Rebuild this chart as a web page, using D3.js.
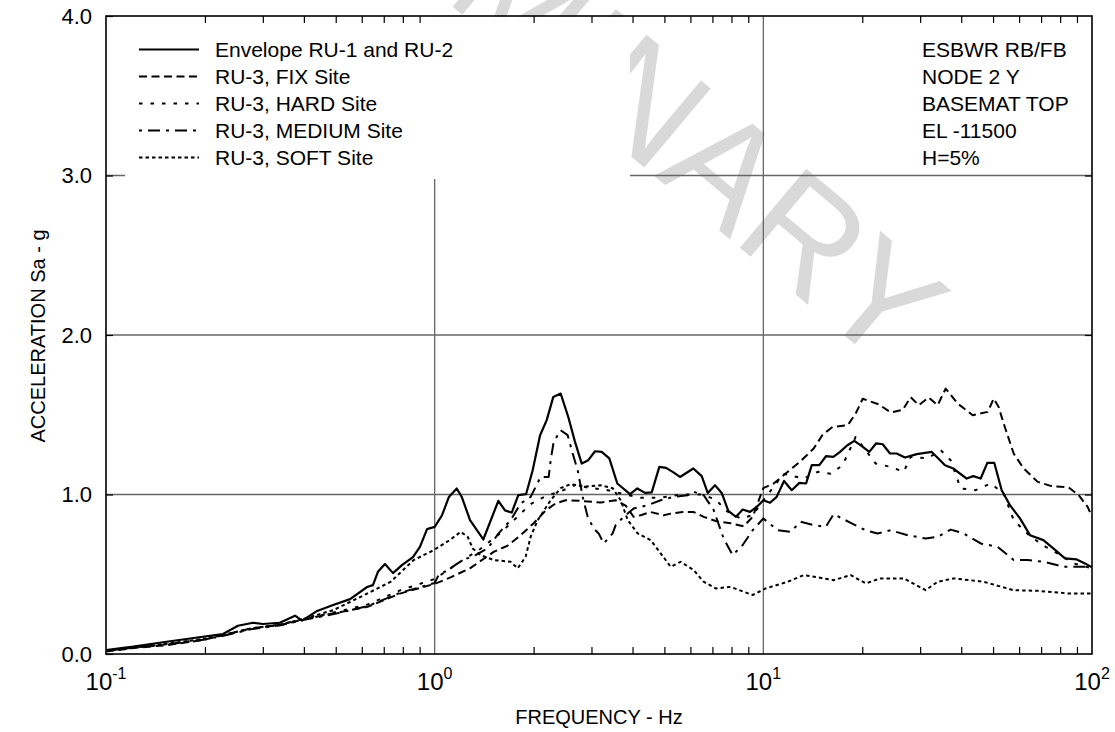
<!DOCTYPE html>
<html>
<head>
<meta charset="utf-8">
<script src="https://d3js.org/d3.v7.min.js"></script>
<style>
  body { margin: 0; background: #fff; }
  text { font-family: "Liberation Sans", Arial, sans-serif; fill: #000; }
</style>
</head>
<body>
<div id="chart"></div>
<script>
// ---- data (frequency in Hz, acceleration in g) ----
var freqEnv = [0.1,0.121,0.153,0.197,0.227,0.252,0.28,0.30,0.338,0.376,
  0.395,0.439,0.491,0.553,0.623,0.649,0.672,0.706,0.747,0.795,
  0.859,0.902,0.948,1.0,1.053,1.105,1.167,1.209,1.281,1.406,
  1.562,1.637,1.716,1.797,1.897,1.987,2.092,2.192,2.296,2.418,
  2.55,2.673,2.802,2.934,3.075,3.223,3.399,3.595,3.93,4.136,
  4.365,4.575,4.826,5.057,5.3,5.578,6.123,6.494,6.773,7.129,
  7.47,7.824,8.257,8.654,9.108,9.545,10.0,10.48,10.98,11.56,
  12.2,12.87,13.49,14.04,14.8,15.51,16.33,17.12,18.02,18.92,
  19.93,21.01,22.02,23.08,24.29,25.45,26.98,29.29,32.54,34.08,
  35.71,37.84,41.56,43.54,45.85,48.03,50.44,53.12,56.3,60.38,
  64.76,71.11,76.26,82.76,89.85,95.21,100];
var accEnv = [0.025,0.046,0.077,0.108,0.125,0.177,0.196,0.188,0.196,0.24,
  0.209,0.27,0.307,0.344,0.42,0.432,0.515,0.564,0.507,0.557,
  0.607,0.672,0.783,0.797,0.87,0.985,1.038,0.985,0.839,0.718,
  0.96,0.90,0.887,0.996,1.002,1.152,1.37,1.466,1.612,1.633,
  1.486,1.33,1.194,1.215,1.271,1.267,1.226,1.069,1.002,1.038,
  1.01,1.013,1.173,1.167,1.142,1.11,1.163,1.115,1.01,1.058,
  1.01,0.897,0.86,0.906,0.891,0.922,0.964,0.948,0.985,1.085,
  1.027,1.073,1.069,1.184,1.184,1.24,1.236,1.267,1.309,1.336,
  1.303,1.267,1.32,1.315,1.257,1.257,1.232,1.253,1.267,1.226,
  1.184,1.163,1.1,1.115,1.1,1.198,1.198,1.027,0.933,0.85,
  0.745,0.714,0.662,0.6,0.593,0.568,0.543];

var freqFix = [0.1,0.121,0.154,0.198,0.228,0.276,0.34,0.391,0.493,0.625,
  0.788,1.0,1.118,1.287,1.512,1.668,1.827,2.001,2.177,2.335,
  2.504,2.782,3.2,3.554,3.813,4.032,4.235,4.542,4.975,5.224,
  5.683,6.138,6.584,7.262,7.955,8.714,9.28,10.0,10.75,11.87,
  12.99,14.23,15.15,16.25,18.06,19.09,20.06,22.43,24.4,26.54,
  28.08,29.7,31.84,33.92,35.87,39.03,43.35,48.16,50.22,52.0,
  53.85,57.77,61.96,68.36,74.85,84.92,91.08,97.0,100];
var accFix = [0.015,0.037,0.056,0.088,0.119,0.161,0.182,0.213,0.255,0.296,
  0.38,0.44,0.48,0.54,0.64,0.68,0.745,0.82,0.9,0.945,
  0.964,0.96,0.95,0.964,0.93,0.86,0.87,0.89,0.87,0.88,
  0.89,0.89,0.86,0.83,0.82,0.80,0.86,1.04,1.069,1.142,
  1.21,1.288,1.375,1.424,1.434,1.507,1.60,1.565,1.515,1.53,
  1.61,1.56,1.608,1.56,1.664,1.57,1.497,1.518,1.601,1.549,
  1.445,1.257,1.163,1.079,1.054,1.044,0.996,0.922,0.86];

var freqHard = [0.1,0.121,0.154,0.198,0.228,0.276,0.34,0.391,0.493,0.625,
  0.788,1.0,1.2,1.38,1.588,1.764,1.959,2.177,2.417,2.686,
  2.983,3.313,3.813,4.235,4.872,5.604,6.447,7.161,7.68,8.531,
  9.28,10.0,11.52,13.28,14.65,16.03,17.43,19.09,21.97,24.4,
  26.73,28.08,31.62,34.64,37.15,39.85,44.28,49.18,53.85,57.77,
  65.08,72.28,80.29,87.95,100];
var accHard = [0.02,0.04,0.062,0.092,0.118,0.158,0.185,0.215,0.26,0.31,
  0.40,0.47,0.58,0.66,0.76,0.85,0.94,0.99,1.02,1.06,
  1.04,1.03,1.0,0.98,0.98,1.0,1.0,0.97,0.9,0.85,
  0.87,0.964,1.13,1.1,1.142,1.13,1.184,1.361,1.194,1.173,
  1.142,1.236,1.226,1.278,1.215,1.038,1.027,1.069,1.006,0.839,
  0.735,0.672,0.62,0.568,0.537];

var freqMed = [0.1,0.121,0.154,0.198,0.228,0.276,0.34,0.391,0.493,0.625,
  0.788,1.0,1.028,1.095,1.175,1.217,1.332,1.45,1.565,1.703,
  1.827,1.959,2.101,2.223,2.254,2.302,2.417,2.539,2.63,2.724,
  2.821,2.921,3.046,3.155,3.268,3.48,3.554,3.758,4.032,4.447,
  4.872,5.336,5.886,6.138,6.584,7.063,7.573,8.067,8.654,9.28,
  10.0,11.06,12.11,12.99,14.23,15.48,16.37,18.44,20.48,22.26,
  24.4,27.49,31.18,33.92,37.15,40.7,45.85,51.64,57.77,63.72,
  71.29,82.0,100];
var accMed = [0.02,0.04,0.06,0.09,0.115,0.155,0.18,0.21,0.25,0.30,
  0.385,0.445,0.495,0.526,0.568,0.589,0.62,0.662,0.756,0.839,
  0.944,0.985,1.11,1.11,1.215,1.33,1.403,1.372,1.257,1.152,
  0.985,0.86,0.787,0.756,0.693,0.756,0.808,0.86,0.912,0.933,
  0.964,0.985,0.996,1.017,0.996,0.902,0.724,0.62,0.683,0.776,
  0.85,0.776,0.766,0.829,0.808,0.797,0.877,0.822,0.776,0.756,
  0.776,0.745,0.724,0.735,0.78,0.756,0.693,0.672,0.589,0.589,
  0.578,0.547,0.547];

var freqSoft = [0.1,0.121,0.154,0.198,0.228,0.276,0.34,0.391,0.493,0.625,
  0.735,0.863,0.993,1.111,1.2,1.26,1.305,1.38,1.512,1.703,
  1.789,1.891,1.959,2.058,2.254,2.417,2.593,2.88,3.2,3.48,
  3.681,3.867,4.146,4.542,4.872,5.224,5.604,6.138,6.584,7.161,
  7.955,8.714,9.28,10.16,11.87,13.28,15.26,16.37,18.44,20.48,
  22.75,26.73,31.18,33.92,37.94,46.82,57.77,68.36,84.33,100];
var accSoft = [0.02,0.04,0.065,0.095,0.12,0.16,0.185,0.215,0.276,0.38,
  0.453,0.589,0.651,0.714,0.766,0.735,0.662,0.62,0.589,0.578,
  0.537,0.609,0.735,0.839,0.964,1.04,1.065,1.05,1.058,1.04,
  0.964,0.84,0.756,0.714,0.631,0.547,0.578,0.526,0.453,0.411,
  0.421,0.39,0.37,0.411,0.453,0.495,0.474,0.463,0.495,0.443,
  0.474,0.474,0.40,0.453,0.474,0.453,0.40,0.396,0.38,0.38];

var seriesNames = ["Envelope RU-1 and RU-2", "RU-3, FIX Site", "RU-3, HARD Site",
  "RU-3, MEDIUM Site", "RU-3, SOFT Site"];
var noteLines = ["ESBWR RB/FB", "NODE 2 Y", "BASEMAT TOP", "EL -11500", "H=5%"];
var yTicks = [0, 1, 2, 3, 4];
var xMajor = [0.1, 1, 10, 100];
var xExp = ["-1", "0", "1", "2"];

var series = [
  {name: seriesNames[0], f: freqEnv, a: accEnv, dash: null, w: 2.2},
  {name: seriesNames[1], f: freqFix, a: accFix, dash: "8,4.5", w: 2},
  {name: seriesNames[2], f: freqHard, a: accHard, dash: "3.5,8", w: 2},
  {name: seriesNames[3], f: freqMed, a: accMed, dash: "3,6,12,6", w: 2},
  {name: seriesNames[4], f: freqSoft, a: accSoft, dash: "3.5,3", w: 2}
];

var width = 1115, height = 732;
var L = 106, R = 1092, T = 16, B = 654;

var svg = d3.select("#chart").append("svg")
    .attr("width", width)
    .attr("height", height);

svg.append("rect").attr("width", width).attr("height", height).attr("fill", "#fff");

var x = d3.scaleLog().domain([0.1, 100]).range([L, R]);
var y = d3.scaleLinear().domain([0, 4]).range([B, T]);

// watermark
svg.append("text")
    .attr("transform", "translate(888,372) rotate(40)")
    .attr("text-anchor", "end")
    .style("font-size", "150px")
    .style("fill", "#d9d9d9")
    .text("PRELIMINARY");

// grid
var grid = svg.append("g").attr("stroke", "#666").attr("stroke-width", 1.3);
[1, 2, 3].forEach(function (v) {
  grid.append("line").attr("x1", L).attr("x2", R).attr("y1", y(v)).attr("y2", y(v));
});
[1, 10].forEach(function (v) {
  grid.append("line").attr("x1", x(v)).attr("x2", x(v)).attr("y1", T).attr("y2", B);
});

// legend box hides the grid behind it
svg.append("rect").attr("x", 125).attr("y", T + 1).attr("width", 505).attr("height", 162)
    .attr("fill", "#fff");

// curves
svg.append("clipPath").attr("id", "clip")
  .append("rect").attr("x", L).attr("y", T).attr("width", R - L).attr("height", B - T);

var line = d3.line()
    .x(function (d) { return x(d[0]); })
    .y(function (d) { return y(d[1]); });

svg.append("g").attr("clip-path", "url(#clip)")
  .selectAll("path")
  .data(series)
  .enter().append("path")
    .attr("d", function (s) { return line(s.f.map(function (f, i) { return [f, s.a[i]]; })); })
    .attr("fill", "none")
    .attr("stroke", "#000")
    .attr("stroke-width", function (s) { return s.w; })
    .attr("stroke-dasharray", function (s) { return s.dash; })
    .attr("stroke-linejoin", "round");

// axes (ticks point inward)
var minor = x.ticks().filter(function (t) { return xMajor.indexOf(t) < 0; });
svg.append("g").attr("transform", "translate(0," + B + ")")
    .call(d3.axisBottom(x).tickValues(minor).tickSize(-7).tickFormat(""))
    .call(function (g) { g.select(".domain").remove(); });
svg.append("g").attr("transform", "translate(0," + T + ")")
    .call(d3.axisTop(x).tickValues(minor).tickSize(-7).tickFormat(""))
    .call(function (g) { g.select(".domain").remove(); });

var yAxis = svg.append("g").attr("transform", "translate(" + L + ",0)")
    .call(d3.axisLeft(y).tickValues(yTicks).tickSize(-7).tickPadding(14).tickFormat(d3.format(".1f")));
yAxis.select(".domain").remove();
yAxis.selectAll("text").style("font-size", "22px").attr("font-family", null);
svg.append("g").attr("transform", "translate(" + R + ",0)")
    .call(d3.axisRight(y).tickValues([1, 2, 3]).tickSize(-7).tickFormat(""))
    .call(function (g) { g.select(".domain").remove(); });

svg.selectAll(".tick line").attr("stroke", "#000").attr("stroke-width", 1.2);

svg.append("rect").attr("x", L).attr("y", T).attr("width", R - L).attr("height", B - T)
    .attr("fill", "none").attr("stroke", "#000").attr("stroke-width", 1.6);

// x tick labels with superscript exponents
var xl = svg.append("g").selectAll("text").data(xMajor).enter().append("text")
    .attr("x", function (d) { return x(d); })
    .attr("y", 690)
    .attr("text-anchor", "middle")
    .style("font-size", "24px");
xl.append("tspan").text("10");
xl.append("tspan").attr("dy", -11).style("font-size", "16px")
    .text(function (d, i) { return xExp[i]; });

// axis titles
svg.append("text").attr("x", 599).attr("y", 724).attr("text-anchor", "middle")
    .style("font-size", "20px").text("FREQUENCY - Hz");
svg.append("text").attr("transform", "translate(45,336) rotate(-90)")
    .attr("text-anchor", "middle").style("font-size", "20px").text("ACCELERATION Sa - g");

// legend
var leg = svg.append("g").selectAll("g").data(series).enter().append("g")
    .attr("transform", function (d, i) { return "translate(0," + (57 + i * 27) + ")"; });
leg.append("line").attr("x1", 139).attr("x2", 199).attr("y1", -7.5).attr("y2", -7.5)
    .attr("stroke", "#000").attr("stroke-width", function (s) { return s.w; })
    .attr("stroke-dasharray", function (s) { return s.dash; });
leg.append("text").attr("x", 215).style("font-size", "21px").text(function (s) { return s.name; });

// note block
svg.append("g").selectAll("text").data(noteLines).enter().append("text")
    .attr("x", 922)
    .attr("y", function (d, i) { return 57 + i * 27; })
    .style("font-size", "21px")
    .text(function (d) { return d; });
</script>
</body>
</html>
